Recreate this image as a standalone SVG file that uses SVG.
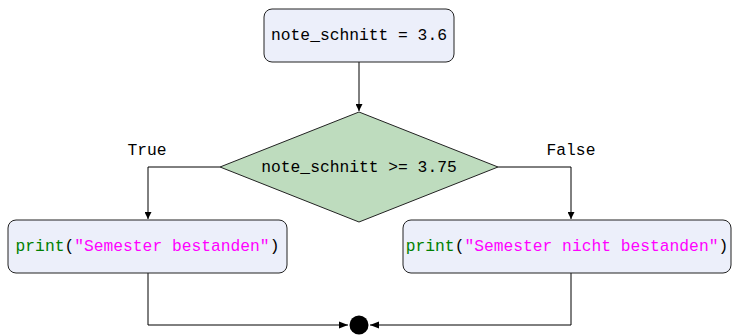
<svg xmlns="http://www.w3.org/2000/svg" width="736" height="335" viewBox="0 0 736 335">
<defs>
<style>
.box{fill:#ECEFFA;stroke:#222;stroke-width:1}
.dia{fill:#BEDCBE;stroke:#222;stroke-width:1}
.t{font-family:"Liberation Mono","DejaVu Sans Mono",monospace;font-size:16.3px;fill:#000}
.g{fill:#008000}
.m{fill:#FF00FF}
.e{fill:none;stroke:#000;stroke-width:1}
</style>
<marker id="ah" viewBox="0 0 10 10" refX="10" refY="5" markerWidth="7" markerHeight="7" markerUnits="userSpaceOnUse" orient="auto"><path d="M0,0L10,5L0,10Z" fill="#000"/></marker>
<marker id="ah2" viewBox="0 0 10 10" refX="10" refY="5" markerWidth="9" markerHeight="9" markerUnits="userSpaceOnUse" orient="auto"><path d="M0,1L10,5L0,9Z" fill="#000"/></marker>
</defs>
<g id="connectors">
<path class="e" d="M359,62V111" marker-end="url(#ah)"/>
<path class="e" d="M220,167H148V219" marker-end="url(#ah)"/>
<path class="e" d="M498,167H571V219" marker-end="url(#ah)"/>
<path class="e" d="M148,273V325H348" marker-end="url(#ah2)"/>
<path class="e" d="M571,273V325H370" marker-end="url(#ah2)"/>
<text class="t" x="147" y="155" text-anchor="middle">True</text>
<text class="t" x="571" y="155" text-anchor="middle">False</text>
</g>
<g id="start">
<rect class="box" x="264" y="9" width="190" height="53" rx="8"/>
<text class="t" x="359" y="40" text-anchor="middle">note_schnitt = 3.6</text>
</g>
<g id="decision">
<polygon class="dia" points="359,112 498,167 359,222 220,167"/>
<text class="t" x="359" y="172" text-anchor="middle">note_schnitt &gt;= 3.75</text>
</g>
<g id="true-branch">
<rect class="box" x="8" y="220" width="279" height="53" rx="8"/>
<text class="t" x="147.5" y="251" text-anchor="middle"><tspan class="g">print</tspan>(<tspan class="m">"Semester bestanden"</tspan>)</text>
</g>
<g id="false-branch">
<rect class="box" x="403" y="220" width="328" height="53" rx="8"/>
<text class="t" x="567" y="251" text-anchor="middle"><tspan class="g">print</tspan>(<tspan class="m">"Semester nicht bestanden"</tspan>)</text>
</g>
<g id="end">
<circle cx="359" cy="325" r="9.5" fill="#000"/>
</g>
</svg>
